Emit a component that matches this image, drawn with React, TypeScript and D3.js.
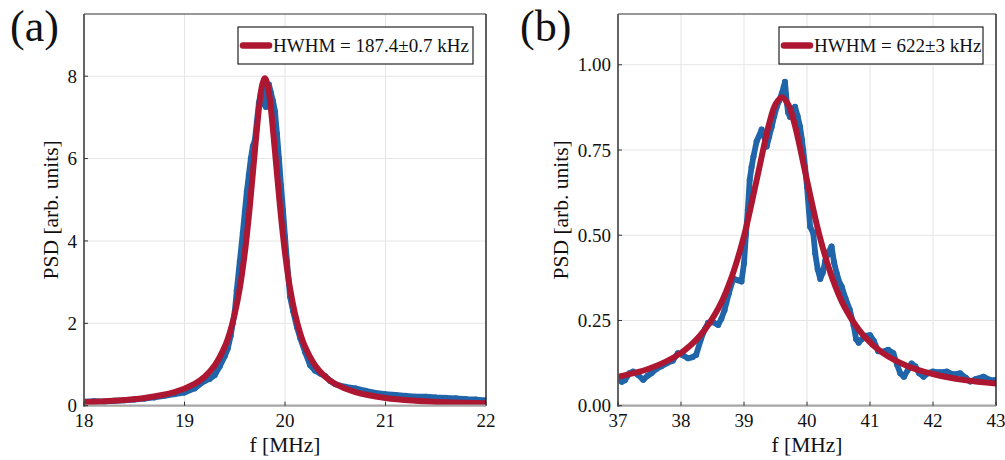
import React from 'react';
import * as d3 from 'd3';

const FONT = 'Liberation Serif';
const BLUE = '#2064a9';
const RED = '#ad1731';

// ---------- Panel (a) ----------
const xTicksA = [18, 19, 20, 21, 22];
const yTicksA = [0, 2, 4, 6, 8];
const yLabelsA = ['0', '2', '4', '6', '8'];
const legendA = 'HWHM = 187.4±0.7 kHz';

const measuredA: [number, number][] = [
  [18.0, 0.1], [18.1, 0.11], [18.2, 0.1], [18.3, 0.12], [18.4, 0.13], [18.5, 0.15],
  [18.6, 0.17], [18.7, 0.2], [18.8, 0.24], [18.9, 0.28], [19.0, 0.32], [19.1, 0.42],
  [19.2, 0.6], [19.25, 0.65], [19.3, 0.74], [19.35, 0.95], [19.4, 1.2], [19.43, 1.38],
  [19.46, 1.7], [19.48, 2.0], [19.5, 2.28], [19.52, 2.8], [19.55, 3.5], [19.58, 4.2],
  [19.6, 4.7], [19.62, 5.2], [19.64, 5.6], [19.66, 6.0], [19.68, 6.3], [19.7, 6.45],
  [19.72, 6.9], [19.74, 7.35], [19.76, 7.6], [19.78, 7.75], [19.8, 7.3], [19.81, 7.25],
  [19.82, 7.65], [19.84, 7.8], [19.86, 7.6], [19.88, 7.4], [19.9, 7.15], [19.92, 6.6],
  [19.94, 6.0], [19.96, 5.35], [19.98, 4.75], [20.0, 4.1], [20.02, 3.5], [20.05, 2.65],
  [20.08, 2.3], [20.12, 1.9], [20.15, 1.65], [20.2, 1.3], [20.25, 0.98], [20.3, 0.85],
  [20.35, 0.78], [20.4, 0.72], [20.45, 0.6], [20.5, 0.52], [20.6, 0.46], [20.7, 0.42],
  [20.8, 0.36], [20.9, 0.31], [21.0, 0.28], [21.1, 0.26], [21.2, 0.24], [21.3, 0.22],
  [21.4, 0.22], [21.5, 0.2], [21.6, 0.19], [21.7, 0.18], [21.8, 0.16], [21.9, 0.15],
  [22.0, 0.13],
];

const fitA: [number, number][] = [
  [18.0, 0.085], [18.3, 0.122], [18.6, 0.189], [18.9, 0.329], [19.1, 0.53], [19.2, 0.704],
  [19.3, 0.976], [19.4, 1.43], [19.45, 1.77], [19.5, 2.23], [19.55, 2.85], [19.6, 3.71],
  [19.65, 4.84], [19.7, 6.18], [19.75, 7.42], [19.775, 7.81], [19.8, 7.95], [19.825, 7.81],
  [19.85, 7.42], [19.9, 6.18], [19.95, 4.84], [20.0, 3.71], [20.05, 2.85], [20.1, 2.23],
  [20.15, 1.77], [20.2, 1.43], [20.3, 0.976], [20.4, 0.704], [20.5, 0.53], [20.7, 0.329],
  [21.0, 0.189], [21.3, 0.122], [21.6, 0.085], [22.0, 0.057],
];

// ---------- Panel (b) ----------
const xTicksB = [37, 38, 39, 40, 41, 42, 43];
const yTicksB = [0, 0.25, 0.5, 0.75, 1.0];
const yLabelsB = ['0.00', '0.25', '0.50', '0.75', '1.00'];
const legendB = 'HWHM = 622±3 kHz';

const measuredB: [number, number][] = [
  [37.0, 0.08], [37.06, 0.07], [37.11, 0.075], [37.18, 0.095], [37.24, 0.1], [37.32, 0.09],
  [37.4, 0.076], [37.47, 0.088], [37.53, 0.095], [37.61, 0.108], [37.69, 0.116], [37.78, 0.125],
  [37.87, 0.132], [37.95, 0.154], [38.03, 0.148], [38.11, 0.139], [38.18, 0.142], [38.24, 0.149],
  [38.32, 0.197], [38.38, 0.225], [38.43, 0.243], [38.51, 0.245], [38.59, 0.237], [38.64, 0.255],
  [38.69, 0.28], [38.76, 0.33], [38.83, 0.373], [38.9, 0.368], [38.96, 0.364], [39.0, 0.418],
  [39.03, 0.5], [39.06, 0.574], [39.09, 0.662], [39.12, 0.7], [39.15, 0.73], [39.2, 0.775],
  [39.28, 0.81], [39.32, 0.79], [39.36, 0.76], [39.4, 0.79], [39.44, 0.818], [39.48, 0.85],
  [39.52, 0.877], [39.56, 0.895], [39.6, 0.916], [39.63, 0.935], [39.65, 0.95], [39.68, 0.888],
  [39.7, 0.86], [39.73, 0.847], [39.77, 0.865], [39.81, 0.877], [39.85, 0.85], [39.89, 0.818],
  [39.92, 0.78], [39.94, 0.75], [39.97, 0.7], [40.0, 0.642], [40.05, 0.525], [40.1, 0.506],
  [40.13, 0.447], [40.17, 0.4], [40.21, 0.372], [40.25, 0.39], [40.29, 0.425], [40.34, 0.45],
  [40.39, 0.467], [40.43, 0.42], [40.47, 0.389], [40.52, 0.359], [40.55, 0.35], [40.61, 0.315],
  [40.68, 0.281], [40.74, 0.235], [40.78, 0.195], [40.82, 0.185], [40.87, 0.195], [40.93, 0.205],
  [41.0, 0.207], [41.06, 0.19], [41.13, 0.16], [41.2, 0.158], [41.29, 0.164], [41.37, 0.154],
  [41.43, 0.12], [41.48, 0.095], [41.54, 0.085], [41.6, 0.105], [41.66, 0.124], [41.72, 0.115],
  [41.78, 0.095], [41.85, 0.085], [41.92, 0.095], [42.0, 0.1], [42.1, 0.098], [42.22, 0.1],
  [42.32, 0.092], [42.43, 0.095], [42.52, 0.082], [42.59, 0.071], [42.68, 0.078], [42.8, 0.085],
  [42.9, 0.076], [43.0, 0.075],
];

const fitB: [number, number][] = [
  [37.0, 0.085], [37.5, 0.109], [38.0, 0.155], [38.3, 0.205], [38.6, 0.288], [38.8, 0.375],
  [39.0, 0.498], [39.2, 0.661], [39.4, 0.828], [39.5, 0.884], [39.6, 0.905], [39.7, 0.884],
  [39.8, 0.828], [40.0, 0.661], [40.2, 0.498], [40.4, 0.375], [40.6, 0.288], [40.9, 0.205],
  [41.2, 0.155], [41.6, 0.116], [42.0, 0.093], [42.5, 0.075], [43.0, 0.065],
];

type PanelProps = {
  id: string;
  left: number; right: number; top: number; bottom: number;
  xDomain: [number, number]; yDomain: [number, number];
  xTicks: number[]; yTicks: number[]; yLabels: string[];
  measured: [number, number][]; fit: [number, number][];
  legend: string; legendX: number; legendW: number;
  label: string; labelX: number; yTitleX: number;
};

function Panel(p: PanelProps) {
  const x = d3.scaleLinear().domain(p.xDomain).range([p.left, p.right]);
  const y = d3.scaleLinear().domain(p.yDomain).range([p.bottom, p.top]);
  const line = d3.line<[number, number]>().x(d => x(d[0])).y(d => y(d[1]));
  const fitLine = d3
    .line<[number, number]>()
    .x(d => x(d[0]))
    .y(d => y(d[1]))
    .curve(d3.curveCatmullRom.alpha(0.5));
  const cx = (p.left + p.right) / 2;
  const cy = (p.top + p.bottom) / 2;
  return (
    <g>
      <defs>
        <clipPath id={`clip-${p.id}`}>
          <rect x={p.left} y={p.top} width={p.right - p.left} height={p.bottom - p.top} />
        </clipPath>
      </defs>
      {p.xTicks.map(t => (
        <line key={`gx${t}`} x1={x(t)} x2={x(t)} y1={p.top} y2={p.bottom} stroke="#e6e6e6" strokeWidth={1.1} />
      ))}
      {p.yTicks.map(t => (
        <line key={`gy${t}`} x1={p.left} x2={p.right} y1={y(t)} y2={y(t)} stroke="#e6e6e6" strokeWidth={1.1} />
      ))}
      <g clipPath={`url(#clip-${p.id})`}>
        <path d={line(p.measured) || ''} fill="none" stroke={BLUE} strokeWidth={5.8} strokeLinejoin="round" strokeLinecap="round" />
        {p.measured.map((d, i) => (
          <circle key={i} cx={x(d[0])} cy={y(d[1])} r={3} fill={BLUE} />
        ))}
        <path d={fitLine(p.fit) || ''} fill="none" stroke={RED} strokeWidth={6} strokeLinejoin="round" strokeLinecap="round" />
      </g>
      <line x1={p.left} x2={p.right} y1={p.top} y2={p.top} stroke="#333" strokeWidth={1.2} />
      <line x1={p.right} x2={p.right} y1={p.top} y2={p.bottom} stroke="#222" strokeWidth={1.4} />
      <line x1={p.left} x2={p.right} y1={p.bottom} y2={p.bottom} stroke="#a6a6a6" strokeWidth={2.2} />
      <line x1={p.left} x2={p.left} y1={p.top} y2={p.bottom + 1} stroke="#555" strokeWidth={1.8} />
      {p.xTicks.map(t => (
        <g key={`tx${t}`}>
          <line x1={x(t)} x2={x(t)} y1={p.bottom} y2={p.bottom - 4} stroke="#333" strokeWidth={1} />
          <text x={x(t)} y={p.bottom + 21} textAnchor="middle" fontFamily={FONT} fontSize={19} fill="#111">{t}</text>
        </g>
      ))}
      {p.yTicks.map((t, i) => (
        <g key={`ty${t}`}>
          <line x1={p.left} x2={p.left + 4} y1={y(t)} y2={y(t)} stroke="#333" strokeWidth={1} />
          <text x={p.left - 7} y={y(t)} dy="0.35em" textAnchor="end" fontFamily={FONT} fontSize={19} fill="#111">{p.yLabels[i]}</text>
        </g>
      ))}
      <text x={cx} y={p.bottom + 46} textAnchor="middle" fontFamily={FONT} fontSize={21.5} fill="#111">f [MHz]</text>
      <text transform={`translate(${p.yTitleX},${cy}) rotate(-90)`} textAnchor="middle" fontFamily={FONT} fontSize={21.5} fill="#111">PSD [arb. units]</text>
      <rect x={p.legendX} y={27} width={p.legendW} height={37} fill="#fff" stroke="#222" strokeWidth={1.2} />
      <line x1={p.legendX + 5} x2={p.legendX + 31} y1={45.5} y2={45.5} stroke={RED} strokeWidth={6.5} strokeLinecap="round" />
      <text x={p.legendX + 35} y={52} fontFamily={FONT} fontSize={19} fill="#111">{p.legend}</text>
      <text x={p.labelX} y={41} fontFamily={FONT} fontSize={44} fill="#111">{p.label}</text>
    </g>
  );
}

export default function App() {
  return (
    <svg
      width={1005}
      height={460}
      viewBox="0 0 1005 460"
      style={{ position: 'absolute', left: 0, top: 0, background: '#fff' }}
    >
      <rect x={0} y={0} width={1005} height={460} fill="#fff" />
      <Panel
        id="a"
        left={84} right={486} top={14} bottom={405.7}
        xDomain={[18, 22]} yDomain={[0, 9.51]}
        xTicks={xTicksA} yTicks={yTicksA} yLabels={yLabelsA}
        measured={measuredA} fit={fitA}
        legend={legendA} legendX={238} legendW={235}
        label="(a)" labelX={10} yTitleX={58}
      />
      <Panel
        id="b"
        left={618} right={996} top={14} bottom={405.7}
        xDomain={[37, 43]} yDomain={[0, 1.149]}
        xTicks={xTicksB} yTicks={yTicksB} yLabels={yLabelsB}
        measured={measuredB} fit={fitB}
        legend={legendB} legendX={779} legendW={204}
        label="(b)" labelX={520} yTitleX={568}
      />
    </svg>
  );
}
